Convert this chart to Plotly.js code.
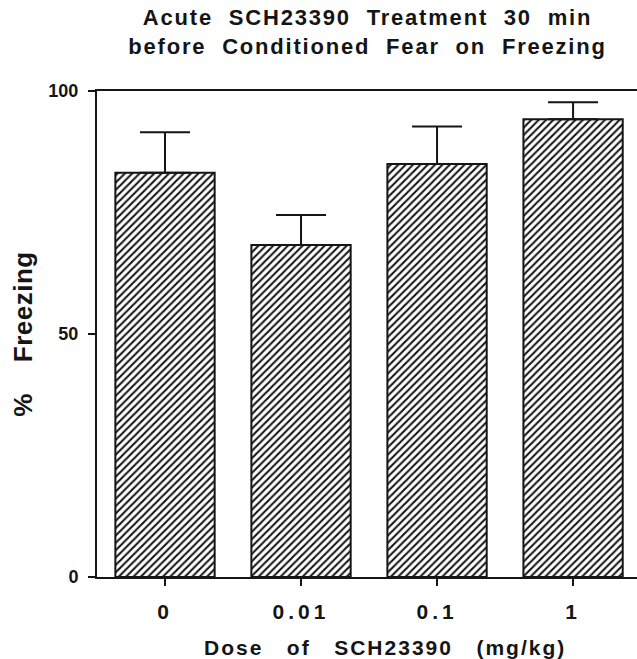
<!DOCTYPE html>
<html>
<head>
<meta charset="utf-8">
<script src="https://cdn.plot.ly/plotly-3.0.1.min.js"></script>
<style>
  html, body { margin: 0; padding: 0; background: #fff; }
  #chart { width: 637px; height: 659px; }
  .gtitle { letter-spacing: 1.8px; }
  .xtick text { letter-spacing: 4px; }
  .annotation-text { letter-spacing: 2px; }
  .ytitle { letter-spacing: 0.5px; }
</style>
</head>
<body>
<div id="chart"></div>
<script>
// Data
const doseLabels = ['0', '0.01', '0.1', '1'];
const dosePositions = [0, 1, 2, 3];
const freezingMean = [83.2, 68.3, 85.0, 94.2];
const freezingSEM = [8.3, 6.2, 7.7, 3.5];
const yTicks = [0, 50, 100];

const FONT = 'Liberation Sans, Arial, Helvetica, sans-serif';
const INK = '#151515';

const trace = {
  type: 'bar',
  x: dosePositions,
  y: freezingMean,
  width: 0.73,
  marker: {
    color: '#ffffff',
    line: { color: INK, width: 2 },
    pattern: { shape: '/', size: 5.2, solidity: 0.4, fgcolor: INK, bgcolor: '#ffffff', fillmode: 'replace' }
  },
  error_y: {
    type: 'data',
    array: freezingSEM,
    symmetric: false,
    arrayminus: freezingSEM.map(() => 0),
    color: INK,
    thickness: 2,
    width: 25
  },
  hoverinfo: 'none'
};

const layout = {
  width: 637,
  height: 659,
  margin: { l: 97, r: 0, t: 91, b: 82, pad: 0 },
  paper_bgcolor: '#ffffff',
  plot_bgcolor: '#ffffff',
  showlegend: false,
  font: { family: FONT, color: INK, size: 18, weight: 'bold' },
  title: {
    text: 'Acute  SCH23390  Treatment  30  min<br>before  Conditioned  Fear  on  Freezing',
    font: { family: FONT, size: 22, color: INK, weight: 'bold' },
    x: 0.577,
    xref: 'container',
    xanchor: 'center',
    y: 1 - 25 / 659,
    yref: 'container',
    yanchor: 'top'
  },
  annotations: [{
    text: 'Dose   of   SCH23390   (mg/kg)',
    xref: 'paper', yref: 'paper',
    x: (385 - 97) / 540, y: -(647 - 577) / 486,
    xanchor: 'center', yanchor: 'middle',
    showarrow: false,
    font: { family: FONT, size: 21, color: INK, weight: 'bold' }
  }],
  xaxis: {
    range: [-0.5, 3.47],
    tickmode: 'array',
    tickvals: dosePositions,
    ticktext: doseLabels,
    ticks: 'outside',
    ticklen: 7,
    tickwidth: 2,
    tickcolor: INK,
    showline: true,
    linecolor: INK,
    linewidth: 2,
    mirror: true,
    showgrid: false,
    zeroline: false,
    ticklabelstandoff: 8,
    tickfont: { family: FONT, size: 21, color: INK, weight: 'bold' }
  },
  yaxis: {
    range: [0, 100],
    tickmode: 'array',
    tickvals: yTicks,
    ticktext: yTicks.map(String),
    ticks: 'outside',
    ticklen: 7,
    tickwidth: 2,
    tickcolor: INK,
    showline: true,
    linecolor: INK,
    linewidth: 2,
    showgrid: false,
    zeroline: false,
    ticklabelstandoff: 6,
    tickfont: { family: FONT, size: 18, color: INK, weight: 'bold' },
    title: {
      text: '%    Freezing',
      font: { family: FONT, size: 26, color: INK, weight: 'bold' },
      standoff: 8
    }
  }
};

Plotly.newPlot('chart', [trace], layout, { displayModeBar: false, staticPlot: true });
</script>
</body>
</html>
